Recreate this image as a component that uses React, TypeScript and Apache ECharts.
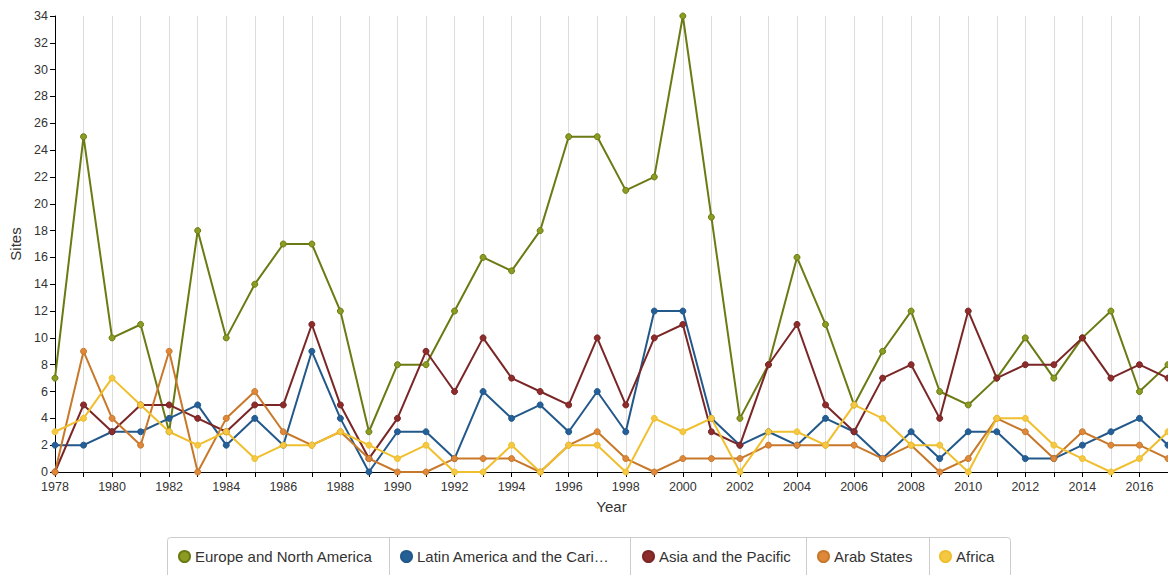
import React, { useEffect, useRef } from "react";
import * as echarts from "echarts";

const years = [
  "1978","1979","1980","1981","1982","1983","1984","1985","1986","1987",
  "1988","1989","1990","1991","1992","1993","1994","1995","1996","1997",
  "1998","1999","2000","2001","2002","2003","2004","2005","2006","2007",
  "2008","2009","2010","2011","2012","2013","2014","2015","2016","2017",
];

const europe = [7,25,10,11,3,18,10,14,17,17,12,3,8,8,12,16,15,18,25,25,21,22,34,19,4,8,16,11,5,9,12,6,5,7,10,7,10,12,6,8];
const latin = [2,2,3,3,4,5,2,4,2,9,4,0,3,3,1,6,4,5,3,6,3,12,12,4,2,3,2,4,3,1,3,1,3,3,1,1,2,3,4,2];
const asia = [0,5,3,5,5,4,3,5,5,11,5,1,4,9,6,10,7,6,5,10,5,10,11,3,2,8,11,5,3,7,8,4,12,7,8,8,10,7,8,7];
const arab = [0,9,4,2,9,0,4,6,3,2,3,1,0,0,1,1,1,0,2,3,1,0,1,1,1,2,2,2,2,1,2,0,1,4,3,1,3,2,2,1];
const africa = [3,4,7,5,3,2,3,1,2,2,3,2,1,2,0,0,2,0,2,2,0,4,3,4,0,3,3,2,5,4,2,2,0,4,4,2,1,0,1,3];

const seriesDefs = [
  { name: "Europe and North America", data: europe, line: "#6b7a12", dot: "#8c9c22", legendLeft: 178 },
  { name: "Latin America and the Caribbean", data: latin, line: "#22588a", dot: "#245f98", legendLeft: 400 },
  { name: "Asia and the Pacific", data: asia, line: "#7a2626", dot: "#8e2b2b", legendLeft: 642 },
  { name: "Arab States", data: arab, line: "#c8782a", dot: "#e0883a", legendLeft: 817 },
  { name: "Africa", data: africa, line: "#f0bf2e", dot: "#f5c843", legendLeft: 939 },
];

const FONT = "Liberation Sans, Arial, Helvetica, sans-serif";

export default function App() {
  const ref = useRef<HTMLDivElement>(null);
  useEffect(() => {
    if (!ref.current) return;
    const chart = echarts.init(ref.current, undefined, { renderer: "svg" });
    chart.setOption({
      animation: false,
      textStyle: { fontFamily: FONT },
      grid: { left: 55, right: 0, top: 16, bottom: 103, containLabel: false },
      xAxis: {
        type: "category",
        data: years,
        boundaryGap: false,
        name: "Year",
        nameLocation: "middle",
        nameGap: 27,
        nameTextStyle: { fontSize: 15, color: "#333", fontFamily: FONT },
        axisLine: { lineStyle: { color: "#000", width: 1 } },
        axisTick: { show: true, interval: 0, length: 5, lineStyle: { color: "#000" } },
        axisLabel: { interval: 1, fontSize: 12.5, color: "#333", margin: 8, fontFamily: FONT },
        splitLine: { show: true, interval: 0, lineStyle: { color: "#dcdcdc", width: 1 } },
      },
      yAxis: {
        type: "value",
        min: 0,
        max: 34,
        interval: 2,
        name: "Sites",
        nameLocation: "middle",
        nameGap: 31,
        nameTextStyle: { fontSize: 15, color: "#333", fontFamily: FONT },
        axisLine: { show: true, lineStyle: { color: "#000", width: 1 } },
        axisTick: { show: true, length: 5, lineStyle: { color: "#000" } },
        axisLabel: { fontSize: 12.5, color: "#333", margin: 7, fontFamily: FONT },
        splitLine: { show: false },
      },
      legend: seriesDefs.map((s) => ({
        data: [s.name],
        left: s.legendLeft,
        top: 549,
        padding: 0,
        icon: "circle",
        itemWidth: 11,
        itemHeight: 11,
        itemGap: 5,
        selectedMode: false,
        formatter: (n: string) => (n === "Latin America and the Caribbean" ? "Latin America and the Cari\u2026" : n),
        textStyle: { fontSize: 15, color: "#333", fontFamily: FONT },
      })),
      graphic: [
        {
          type: "rect",
          shape: { x: 167.5, y: 537.5, width: 843, height: 60, r: 3 },
          style: { fill: "none", stroke: "#cccccc", lineWidth: 1 },
          silent: true,
        },
        ...[389.5, 630.5, 806.5, 929.5].map((x) => ({
          type: "line",
          shape: { x1: x, y1: 538, x2: x, y2: 575 },
          style: { stroke: "#cccccc", lineWidth: 1 },
          silent: true,
        })),
      ],
      series: seriesDefs.map((s) => ({
        name: s.name,
        type: "line",
        data: s.data,
        symbol: "circle",
        symbolSize: 6,
        showSymbol: true,
        lineStyle: { color: s.line, width: 2 },
        itemStyle: { color: s.dot, borderColor: s.line, borderWidth: 1 },
        emphasis: { disabled: true },
      })),
    });
    return () => chart.dispose();
  }, []);
  return (
    <div
      ref={ref}
      style={{ position: "absolute", left: 0, top: 0, width: 1168, height: 575, background: "#fff" }}
    />
  );
}
